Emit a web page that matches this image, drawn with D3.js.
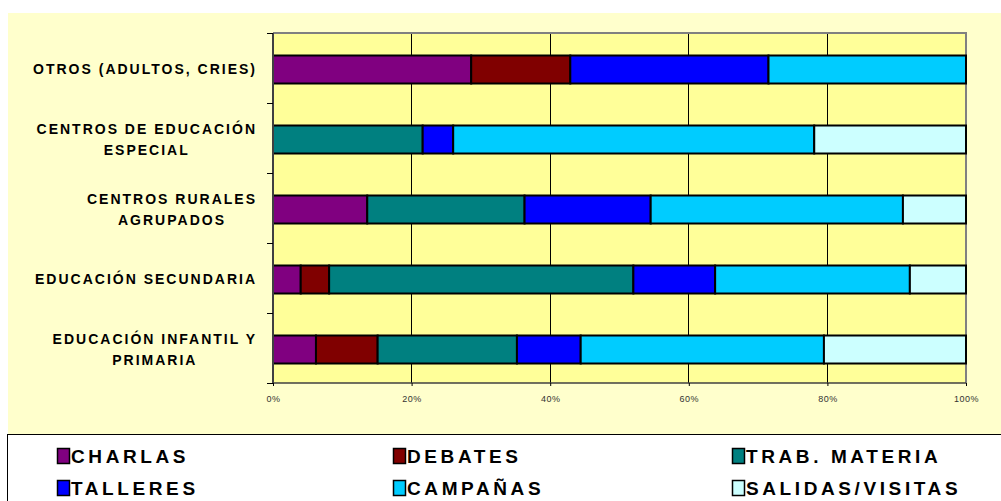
<!DOCTYPE html>
<html>
<head>
<meta charset="utf-8">
<style>
    body { margin: 0; background: #fff; }
    svg { display: block; font-family: 'Liberation Sans', Arial, sans-serif; }
    .cat-label { font-size: 14px; font-weight: bold; letter-spacing: 2px; fill: #000; }
    .x .tick text { font-size: 9px; fill: #333; letter-spacing: 0.5px; }
    .x .domain { display: none; }
    .x .tick line { stroke: #000; }
    .legend text { font-size: 19px; font-weight: bold; letter-spacing: 3.6px; fill: #000; }
</style>
</head>
<body>
<svg width="1001" height="501"></svg>

<script src="https://d3js.org/d3.v7.min.js"></script>
<script>
// categories, top to bottom
let categories = [
    ["OTROS (ADULTOS, CRIES)"],
    ["CENTROS DE EDUCACIÓN", "ESPECIAL"],
    ["CENTROS RURALES", "AGRUPADOS"],
    ["EDUCACIÓN SECUNDARIA"],
    ["EDUCACIÓN INFANTIL Y", "PRIMARIA"]
];
let seriesNames = ["CHARLAS", "DEBATES", "TRAB. MATERIA", "TALLERES", "CAMPAÑAS", "SALIDAS/VISITAS"];
let seriesColors = ["#800080", "#800000", "#008080", "#0000FF", "#00CCFF", "#CCFFFF"];

// percentages per category (same order as categories)
let charlas  = [28.6, 0, 13.6, 4.0, 6.2];
let debates  = [14.3, 0, 0, 4.1, 8.9];
let trabMat  = [0, 21.6, 22.7, 43.9, 20.1];
let talleres = [28.6, 4.4, 18.2, 11.8, 9.2];
let campanas = [28.5, 52.1, 36.4, 28.1, 35.1];
let salidas  = [0, 21.9, 9.1, 8.1, 20.5];

let xTicks = [0, 0.2, 0.4, 0.6, 0.8, 1];

let allSeries = [charlas, debates, trabMat, talleres, campanas, salidas];
let rows = categories.map(function (c, i) {
    let r = { cat: c.join(" ") };
    seriesNames.forEach(function (s, j) { r[s] = allSeries[j][i]; });
    return r;
});

let svg = d3.select("svg");
let plot = { left: 273, right: 966, top: 33, bottom: 383 };

// outer chart area
svg.append("rect")
    .attr("x", 8).attr("y", 13)
    .attr("width", 993).attr("height", 421)
    .attr("fill", "#FFFFCC");

// plot background
svg.append("rect")
    .attr("x", plot.left).attr("y", plot.top)
    .attr("width", plot.right - plot.left).attr("height", plot.bottom - plot.top)
    .attr("fill", "#FFFF99");

let xScale = d3.scaleLinear().domain([0, 1]).range([plot.left, plot.right]);
let yScale = d3.scaleBand()
    .domain(rows.map(function (d) { return d.cat; }))
    .range([plot.top, plot.bottom])
    .paddingInner(0.6)
    .paddingOuter(0.3);

// vertical gridlines
svg.append("g").selectAll("line")
    .data(xTicks.slice(1, -1))
    .enter().append("line")
    .attr("x1", function (d) { return xScale(d); })
    .attr("x2", function (d) { return xScale(d); })
    .attr("y1", plot.top).attr("y2", plot.bottom)
    .attr("stroke", "#000").attr("stroke-width", 1)
    .attr("shape-rendering", "crispEdges");

// frame top & right (gray)
svg.append("path")
    .attr("d", `M${plot.left},${plot.top}H${plot.right}V${plot.bottom}`)
    .attr("fill", "none").attr("stroke", "#808080").attr("stroke-width", 2);

let stack = d3.stack().keys(seriesNames).offset(d3.stackOffsetExpand);
let stacked = stack(rows);

svg.append("g").selectAll("g")
    .data(stacked)
    .enter().append("g")
    .attr("fill", function (d, i) { return seriesColors[i]; })
    .selectAll("rect")
    .data(function (d) { return d.filter(function (p) { return p[1] - p[0] > 0; }); })
    .enter().append("rect")
    .attr("x", function (d) { return xScale(d[0]); })
    .attr("y", function (d) { return yScale(d.data.cat) + 1.5; })
    .attr("width", function (d) { return xScale(d[1]) - xScale(d[0]); })
    .attr("height", yScale.bandwidth())
    .attr("stroke", "#000")
    .attr("stroke-width", 2);

// y axis line + ticks at band boundaries
let bounds = d3.range(categories.length + 1).map(function (i) { return plot.top + i * yScale.step(); });
svg.append("line")
    .attr("x1", plot.left).attr("x2", plot.left)
    .attr("y1", plot.top).attr("y2", plot.bottom)
    .attr("stroke", "#404040").attr("stroke-width", 2);
svg.append("g").selectAll("line")
    .data(bounds)
    .enter().append("line")
    .attr("x1", plot.left - 6).attr("x2", plot.left)
    .attr("y1", function (d) { return d; }).attr("y2", function (d) { return d; })
    .attr("stroke", "#000").attr("shape-rendering", "crispEdges");

// bottom axis line
svg.append("line")
    .attr("x1", plot.left).attr("x2", plot.right)
    .attr("y1", plot.bottom).attr("y2", plot.bottom)
    .attr("stroke", "#404040").attr("stroke-width", 1.5);

let xAxis = d3.axisBottom(xScale)
    .tickValues(xTicks)
    .tickSize(3)
    .tickPadding(10)
    .tickFormat(d3.format(".0%"));
svg.append("g")
    .attr("class", "x axis")
    .attr("transform", `translate(0,${plot.bottom})`)
    .call(xAxis);

// category labels: lines centered to each other, block right-aligned
categories.forEach(function (lines, i) {
    let cy = yScale(rows[i].cat) + yScale.bandwidth() / 2 + 6;
    let t = svg.append("text").attr("class", "cat-label").attr("text-anchor", "middle");
    lines.forEach(function (ln, k) {
        t.append("tspan")
            .attr("x", 0)
            .attr("y", cy + (k - (lines.length - 1) / 2) * 21)
            .text(ln);
    });
    let w = t.node().getBBox().width;
    t.attr("transform", `translate(${257 - w / 2},0)`);
});

// legend
svg.append("rect")
    .attr("x", 7.5).attr("y", 434.5)
    .attr("width", 1000).attr("height", 70)
    .attr("fill", "#fff").attr("stroke", "#000");

let legendX = [57, 393, 732];
let legendY = [448, 480];
let legend = svg.append("g").attr("class", "legend").selectAll("g")
    .data(seriesNames)
    .enter().append("g")
    .attr("transform", function (d, i) {
        return `translate(${legendX[i % 3]},${legendY[Math.floor(i / 3)]})`;
    });
legend.append("rect")
    .attr("x", 0.5).attr("y", 0.5)
    .attr("width", 12).attr("height", 15)
    .attr("fill", function (d, i) { return seriesColors[i]; })
    .attr("stroke", "#000").attr("stroke-width", 1.5);
legend.append("text")
    .attr("x", 14).attr("y", 14.5)
    .text(function (d) { return d; });
</script>
</body>
</html>
